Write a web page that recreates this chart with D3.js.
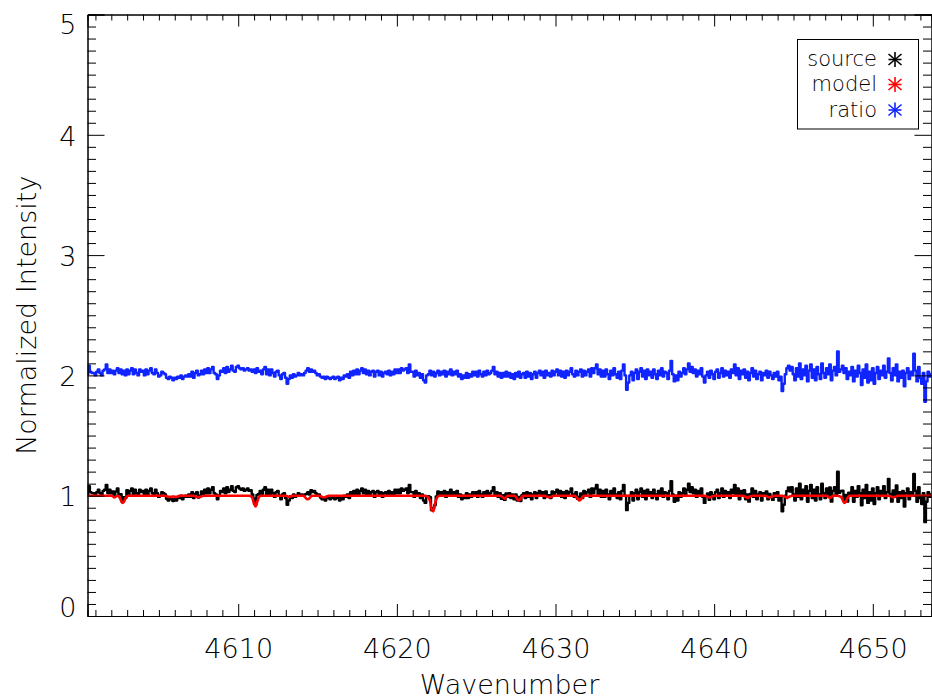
<!DOCTYPE html>
<html>
<head>
<meta charset="utf-8">
<script src="https://cdn.jsdelivr.net/npm/d3@7"></script>
<style>
  body { margin: 0; background: #fff; }
  text { font-family: "DejaVu Sans", "Liberation Sans", sans-serif; font-weight: 200; fill: #000; }
</style>
</head>
<body>
<svg id="chart" width="932" height="700"></svg>
<script>
// Spectrum sampled on a regular wavenumber grid (cm^-1)
const wnStart = 4600.5;
const wnStep = 0.1;

// Observed source divided by the model (source / model)
const ratio = [
  1.01,1.08,1.03,1.02,1.02,
  1.00,1.03,1.05,1.02,1.00,1.04,1.05,1.09,1.02,1.05,
  1.02,1.04,1.01,1.04,1.06,1.02,1.05,1.01,1.04,1.00,
  1.05,1.01,1.04,1.06,1.01,1.05,1.02,1.00,1.05,1.03,
  1.04,1.00,1.05,1.01,1.04,1.06,1.02,1.01,1.05,1.02,
  0.99,1.00,1.03,1.02,1.01,0.98,0.97,0.99,0.98,0.96,
  0.98,0.97,0.99,0.98,1.00,0.97,0.99,1.00,0.99,1.01,
  0.99,1.03,0.98,1.02,1.04,1.00,1.01,1.04,1.01,1.05,
  1.02,1.06,1.02,1.05,1.07,1.02,1.01,0.97,1.00,1.04,
  1.03,1.06,1.02,1.07,1.03,1.05,1.08,1.04,1.03,1.07,
  1.08,1.06,1.05,1.06,1.04,1.05,1.06,1.04,1.05,1.03,
  1.05,1.02,1.06,1.03,1.04,1.01,1.05,1.07,1.01,1.05,
  1.00,1.05,1.02,0.99,1.03,1.04,1.00,0.97,1.01,1.02,
  0.98,0.93,0.97,1.00,0.98,1.01,0.99,1.00,1.02,1.00,
  1.01,1.00,1.02,1.04,1.06,1.03,1.05,1.03,1.04,1.02,
  1.00,1.01,0.99,0.98,0.99,0.97,0.99,0.98,0.97,0.98,
  0.99,0.97,0.98,0.99,0.96,0.98,0.97,1.00,0.99,1.01,
  0.98,1.03,1.00,1.04,1.01,1.05,1.01,1.04,1.06,1.02,
  1.05,1.01,1.04,1.00,1.03,1.04,0.99,1.03,1.04,1.00,
  1.03,0.99,1.02,1.03,1.01,1.04,1.00,1.03,1.01,1.05,
  1.02,1.05,1.02,1.06,1.04,1.05,1.06,1.02,1.09,1.03,
  1.03,0.99,1.04,1.00,1.02,0.98,1.01,0.96,0.94,1.00,
  1.01,1.04,1.00,1.03,0.99,1.02,1.04,1.00,1.03,1.01,
  1.04,0.99,1.03,1.01,1.05,1.00,1.03,1.01,1.04,0.99,
  1.01,0.97,1.00,0.98,1.02,0.98,1.01,0.99,1.03,1.00,
  1.03,0.99,1.04,1.01,0.99,1.03,1.00,1.04,1.01,1.02,
  1.04,1.07,1.01,1.03,0.99,1.02,0.98,1.02,0.99,1.03,
  0.99,1.02,0.98,1.01,0.97,1.02,0.99,1.03,0.98,1.01,
  1.02,0.98,1.03,0.99,1.02,0.97,1.01,1.03,0.98,1.02,
  1.04,1.00,1.03,0.98,1.04,1.00,1.02,0.99,1.04,1.00,
  1.03,1.05,1.00,1.04,0.99,1.03,0.98,1.04,1.00,1.03,
  1.06,1.01,0.99,1.04,1.00,1.03,1.05,0.99,1.04,1.00,
  1.03,1.05,0.99,1.06,1.02,1.06,1.09,1.01,1.05,0.99,
  1.04,0.99,1.05,1.01,0.97,1.04,1.00,1.06,1.01,0.98,
  1.03,0.97,1.04,1.09,1.00,0.88,0.94,1.00,1.03,0.96,
  1.02,1.05,0.97,1.03,1.06,0.99,1.04,0.97,1.05,1.00,
  1.03,0.98,1.05,1.01,0.97,1.04,1.00,1.06,0.99,1.03,
  1.02,0.97,1.04,1.12,1.01,0.95,1.00,0.96,1.03,0.99,
  1.02,1.06,1.01,1.05,1.10,1.03,1.07,1.02,1.05,0.99,
  1.04,1.01,1.06,0.99,0.94,1.00,1.03,0.98,1.04,1.01,
  0.97,1.03,1.05,0.98,1.02,1.06,0.99,1.04,1.00,1.03,
  0.98,1.05,1.02,1.09,1.00,1.06,0.97,1.04,1.01,1.05,
  0.98,1.03,0.96,1.02,1.06,0.99,1.04,0.97,1.01,1.03,
  0.96,1.02,1.00,1.04,0.98,1.03,1.00,0.97,1.02,0.99,
  1.03,0.96,0.99,0.87,0.93,1.01,1.06,1.08,1.04,1.07,
  1.01,0.96,1.06,0.99,1.10,0.97,1.05,1.00,1.08,0.95,
  1.04,1.09,0.98,1.05,0.96,1.07,1.01,0.97,1.10,1.02,
  0.98,1.06,1.01,1.09,0.96,1.04,1.07,1.00,1.20,1.03,
  1.05,1.08,1.02,1.06,0.97,1.03,1.00,1.07,0.95,1.04,
  0.99,1.08,1.02,0.92,1.05,0.98,1.09,0.94,1.03,0.96,
  1.06,0.93,1.02,1.07,0.97,1.04,1.00,1.08,0.98,1.03,
  1.14,1.02,0.96,1.06,1.00,1.09,0.95,1.03,0.98,1.04,
  0.91,1.02,1.06,0.97,1.03,1.00,1.18,1.04,0.95,1.07,
  0.98,0.93,1.02,0.78,0.95,1.03,0.99,1.01
];

// Telluric / stellar line model on the same grid
const model = [
  1,1,1,1,1,
  1,1,1,1,1,1,1,1,1,1,
  1,0.995,0.985,0.995,1,0.99,0.965,0.94,0.95,0.98,
  0.995,1,1,1,1,1,1,1,1,1,
  1,1,1,1,1,1,1,1,1,1,
  1,1,1,1,1,0.995,0.99,0.99,0.99,0.995,
  0.99,0.99,0.995,1,1,1,1,1,1,1,
  1,1,1,0.995,0.99,0.985,0.99,0.995,1,1,
  1,1,1,1,1,1,1,1,1,1,
  1,1,1,1,1,1,1,1,1,1,
  1,1,1,1,1,1,1,1,0.995,0.98,
  0.93,0.91,0.95,0.985,1,1,1,1,1,1,
  1,1,1,1,1,1,1,1,1,1,
  1,0.995,0.99,0.995,1,1,1,1,1,1,
  1,1,0.99,0.975,0.97,0.98,0.995,1,1,1,
  1,1,0.995,0.99,0.985,0.99,0.995,1,1,1,
  1,1,1,1,1,1,1,1,1,1,
  1,1,1,1,1,1,1,1,1,1,
  1,1,1,1,1,1,1,1,1,1,
  1,1,1,1,1,1,1,1,1,1,
  1,1,1,1,1,1,1,1,1,1,
  1,1,1,1,1,1,1,1,1,0.995,
  0.985,0.95,0.88,0.87,0.93,0.975,0.995,1,1,1,
  1,1,1,1,1,1,1,1,1,1,
  1,1,1,1,1,1,1,1,1,1,
  1,1,1,1,1,1,1,1,1,1,
  1,1,1,1,1,1,0.995,0.985,0.975,0.99,
  1,1,1,1,1,0.99,0.97,0.96,0.975,0.995,
  1,1,1,1,1,1,1,1,1,1,
  1,1,1,1,0.995,0.99,0.985,0.99,0.995,1,
  1,1,1,1,1,1,1,1,1,1,
  1,1,1,0.99,0.975,0.96,0.97,0.99,1,1,
  1,1,1,1,1,1,1,1,1,1,
  1,1,1,1,1,1,1,1,1,1,
  1,1,1,1,1,1,1,1,1,1,
  1,1,1,1,1,1,1,1,1,1,
  1,1,1,1,1,1,1,1,1,1,
  1,1,1,1,1,1,1,1,1,1,
  1,1,1,1,1,1,1,1,1,1,
  1,1,1,1,1,0.995,0.99,0.985,0.99,0.995,
  1,1,1,1,1,1,1,1,1,1,
  1,1,1,1,1,1,1,1,1,0.995,
  0.99,0.98,0.99,0.995,1,1,1,1,1,1,
  1,1,1,0.995,0.99,0.985,0.99,0.995,1,1,
  1,1,1,1,0.995,0.99,0.98,0.99,0.995,1,
  1,1,1,1,1,1,1,1,1,1,
  1,1,1,1,1,1,1,1,1,1,
  1,1,0.99,0.98,0.99,1,1,1,1,0.995,
  0.99,0.965,0.94,0.95,0.98,0.995,1,1,1,1,
  1,1,1,1,1,1,1,1,1,1,
  1,1,1,1,1,1,1,1,1,1,
  1,0.995,0.99,0.985,0.99,0.995,1,1,1,1,
  1,1,1,1,1,1,1,1,1,1,
  1,1,1,1,1,1,1,1
];

const xMajorTicks = [4610, 4620, 4630, 4640, 4650];
const yMajorTicks = [0, 1, 2, 3, 4, 5];
const ratioOffset = 1;   // ratio is shifted up by one unit for display
const legendLabels = ["source", "model", "ratio"];
const legendColors = ["#000000", "#ff0000", "#1024ff"];

(function draw() {
  // ---- build rows -------------------------------------------------------
  const n = Math.min(ratio.length, model.length);
  const rows = d3.range(n).map(i => ({
    wn: wnStart + i * wnStep,
    source: ratio[i] * model[i],
    model: model[i],
    ratio: ratio[i] + ratioOffset
  }));

  // ---- layout -----------------------------------------------------------
  const svg = d3.select("#chart");
  const pLeft = 87.5, pRight = 931.5, pTop = 14.5, pBottom = 616;
  const x = d3.scaleLinear().domain([wnStart, wnStart + (n - 1) * wnStep]).range([pLeft, pRight]);
  const y = d3.scaleLinear().domain([0, 5]).range([pBottom, pTop]);

  svg.append("defs").append("clipPath").attr("id", "plot-clip")
    .append("rect").attr("x", pLeft).attr("y", pTop)
    .attr("width", pRight - pLeft).attr("height", pBottom - pTop);

  // ---- spectra: observed and ratio as histogram steps, model as smooth curve
  const plot = svg.append("g").attr("clip-path", "url(#plot-clip)");
  const stepLine = key => d3.line().curve(d3.curveStep).x(d => x(d.wn)).y(d => y(d[key]));
  const smoothLine = key => d3.line().curve(d3.curveMonotoneX).x(d => x(d.wn)).y(d => y(d[key]));
  [["source", legendColors[0], stepLine, 2.4],
   ["model", legendColors[1], smoothLine, 2.6],
   ["ratio", legendColors[2], stepLine, 2.4]]
    .forEach(([key, color, gen, width]) => {
      plot.append("path").datum(rows)
        .attr("fill", "none").attr("stroke", color)
        .attr("stroke-width", width).attr("stroke-linejoin", "round")
        .attr("d", gen(key));
    });

  // ---- axes -------------------------------------------------------------
  const xMinor = d3.range(Math.ceil(wnStart), Math.floor(x.domain()[1]) + 1).filter(v => !xMajorTicks.includes(v));
  const yMinor = d3.range(0, 51).map(v => v / 10).filter(v => !yMajorTicks.includes(v));
  const fontSize = 27;

  function styleAxis(g) {
    g.selectAll(".domain").attr("stroke", "#000").attr("stroke-width", 1);
    g.selectAll(".tick line").attr("stroke", "#000").attr("stroke-width", 1);
    g.selectAll("text").attr("font-size", fontSize).attr("font-family", null).attr("fill", "#000");
  }

  // bottom
  const gB = svg.append("g").attr("transform", `translate(0,${pBottom})`);
  gB.append("g").call(d3.axisBottom(x).tickValues(xMinor).tickSize(-6).tickFormat("")).call(styleAxis);
  gB.append("g").call(d3.axisBottom(x).tickValues(xMajorTicks).tickSize(-12).tickPadding(23)
    .tickFormat(d3.format("d"))).call(styleAxis);
  // top
  const gT = svg.append("g").attr("transform", `translate(0,${pTop})`);
  gT.append("g").call(d3.axisTop(x).tickValues(xMinor).tickSize(-6).tickFormat("")).call(styleAxis);
  gT.append("g").call(d3.axisTop(x).tickValues(xMajorTicks).tickSize(-12).tickFormat("")).call(styleAxis);
  // left
  const gL = svg.append("g").attr("transform", `translate(${pLeft},0)`);
  gL.append("g").call(d3.axisLeft(y).tickValues(yMinor).tickSize(-8.5).tickFormat("")).call(styleAxis);
  gL.append("g").attr("class", "y-major").call(d3.axisLeft(y).tickValues(yMajorTicks).tickSize(-17).tickPadding(11)
    .tickFormat(d3.format("d"))).call(styleAxis);
  gL.selectAll(".y-major .tick text").attr("dy", d => d === 0 ? "0.03em" : d === 5 ? "0.72em" : "0.38em");
  // right
  const gR = svg.append("g").attr("transform", `translate(${pRight},0)`);
  gR.append("g").call(d3.axisRight(y).tickValues(yMinor).tickSize(-8.5).tickFormat("")).call(styleAxis);
  gR.append("g").call(d3.axisRight(y).tickValues(yMajorTicks).tickSize(-17).tickFormat("")).call(styleAxis);

  // ---- axis titles ------------------------------------------------------
  svg.append("text")
    .attr("x", (pLeft + pRight) / 2).attr("y", 694)
    .attr("text-anchor", "middle").attr("font-size", fontSize)
    .text("Wavenumber");
  svg.append("text")
    .attr("transform", `translate(36,${(pTop + pBottom) / 2}) rotate(-90)`)
    .attr("text-anchor", "middle").attr("font-size", fontSize)
    .text("Normalized Intensity");

  // ---- legend -----------------------------------------------------------
  const legend = svg.append("g");
  legend.append("rect")
    .attr("x", 797.5).attr("y", 39.5).attr("width", 121).attr("height", 89.5)
    .attr("fill", "#fff").attr("stroke", "#000").attr("stroke-width", 1);
  const legendRow = d3.scaleOrdinal().domain(legendLabels).range([59.5, 84.5, 110]);
  legendLabels.forEach((label, i) => {
    const cy = legendRow(label);
    legend.append("text")
      .attr("x", 877).attr("y", cy).attr("dy", "0.33em")
      .attr("text-anchor", "end").attr("font-size", 21)
      .text(label);
    // asterisk marker: plus + cross
    const star = legend.append("g").attr("transform", `translate(895,${cy})`)
      .attr("stroke", legendColors[i]).attr("stroke-width", 1.6);
    star.append("line").attr("x1", 0).attr("y1", -7.5).attr("x2", 0).attr("y2", 7.5);
    star.append("line").attr("x1", -6.5).attr("y1", -5.5).attr("x2", 6.5).attr("y2", 5.5);
    star.append("line").attr("x1", -6.5).attr("y1", 5.5).attr("x2", 6.5).attr("y2", -5.5);
    star.append("line").attr("x1", -6.5).attr("y1", 0).attr("x2", 6.5).attr("y2", 0);
  });
})();
</script>
</body>
</html>
